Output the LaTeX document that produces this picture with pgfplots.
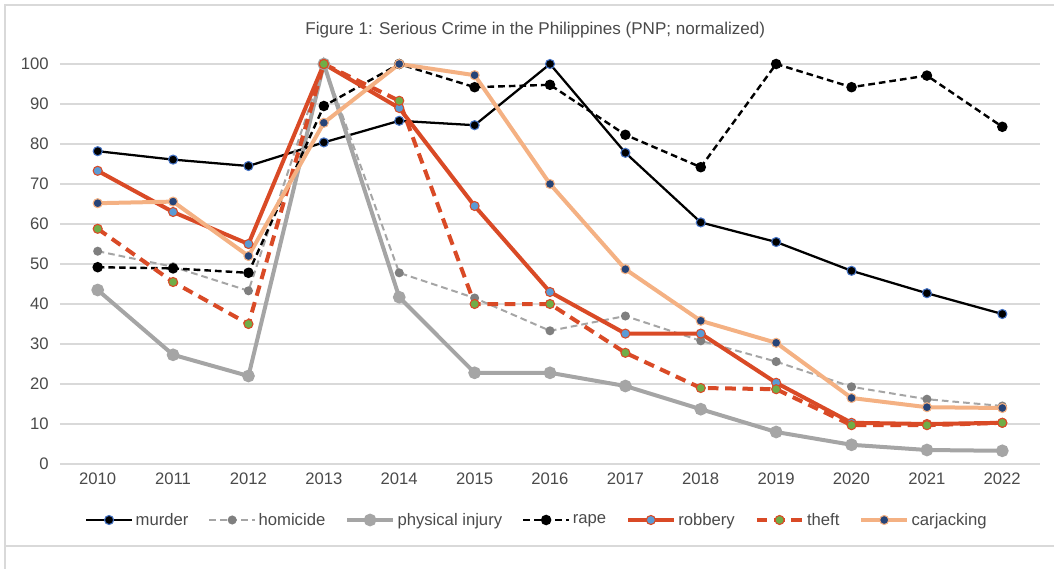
\documentclass[border=0pt]{standalone}
\usepackage{fontspec}
\setmainfont{Liberation Sans}
\usepackage{pgfplots}
\pgfplotsset{compat=1.18}
\definecolor{txt}{HTML}{4A4A4A}
\definecolor{grd}{HTML}{D9D9D9}
\definecolor{mblue}{HTML}{4472C4}
\definecolor{hgray}{HTML}{A5A5A5}
\definecolor{hmark}{HTML}{7F7F7F}
\definecolor{rob}{HTML}{D94A26}
\definecolor{robm}{HTML}{5B9BD5}
\definecolor{thm}{HTML}{70AD47}
\definecolor{car}{HTML}{F4B183}
\definecolor{carm}{HTML}{264478}
\begin{document}
\begin{tikzpicture}
\useasboundingbox (0,0) rectangle (790.5pt,426.75pt);
\draw[grd, line width=1.2pt] (790.5pt,423pt) -- (3.75pt,423pt) -- (3.75pt,0pt);
\draw[grd, line width=1pt] (3.75pt,17.25pt) -- (790.5pt,17.25pt);
\begin{axis}[
  at={(45pt,78.75pt)}, anchor=south west,
  scale only axis, width=735pt, height=300pt,
  xmin=2009.5, xmax=2022.5, ymin=0, ymax=100,
  xtick={2010,...,2022}, ytick={0,10,...,100},
  axis line style={draw=none},
  tick style={draw=none},
  ymajorgrids, grid style={grd, line width=0.9pt},
  /pgf/number format/assume math mode=true,
  /pgf/number format/1000 sep={},
  tick label style={font=\fontsize{12.5}{14}\selectfont, text=txt},
  yticklabel style={xshift=-5pt},
  xticklabel style={yshift=-3pt},
  clip=false,
  legend columns=7,
  legend style={draw=none, fill=none, at={(0.487,-0.14)}, anchor=center,
    font=\fontsize{12.5}{14}\selectfont, text=txt,
    /tikz/every even column/.append style={column sep=13pt}},
  legend image code/.code={\draw[mark repeat=2,mark phase=2] plot coordinates {(0cm,0cm)(0.6cm,0cm)(1.2cm,0cm)};},
]
\node[font=\fontsize{12.8}{14}\selectfont, text=txt] at (rel axis cs:0.485,1.085) {Figure 1: Serious Crime in the Philippines (PNP; normalized)};
\addplot[black, line width=1.7pt, mark=*, mark size=3.4pt, mark options={solid, fill=black, draw=mblue, line width=0.8pt}]
coordinates {(2010,78.2)(2011,76.1)(2012,74.5)(2013,80.4)(2014,85.8)(2015,84.7)(2016,100)(2017,77.8)(2018,60.4)(2019,55.5)(2020,48.3)(2021,42.7)(2022,37.5)};
\addlegendentry{murder}
\addplot[hgray, line width=1.5pt, dash pattern=on 5pt off 3pt, mark=*, mark size=2.6pt, mark options={solid, fill=hmark, draw=hmark}]
coordinates {(2010,53.2)(2011,49.3)(2012,43.3)(2013,100)(2014,47.8)(2015,41.5)(2016,33.3)(2017,37.0)(2018,30.8)(2019,25.6)(2020,19.3)(2021,16.2)(2022,14.5)};
\addlegendentry{homicide}
\addplot[hgray, line width=3pt, mark=*, mark size=3.2pt, mark options={solid, fill=hgray, draw=hgray}]
coordinates {(2010,43.5)(2011,27.3)(2012,22.0)(2013,100)(2014,41.7)(2015,22.8)(2016,22.8)(2017,19.5)(2018,13.7)(2019,8.0)(2020,4.8)(2021,3.5)(2022,3.3)};
\addlegendentry{physical injury}
\addplot[black, line width=1.8pt, dash pattern=on 5pt off 3pt, mark=*, mark size=3pt, mark options={solid, fill=black, draw=black}]
coordinates {(2010,49.2)(2011,48.9)(2012,47.8)(2013,89.5)(2014,100)(2015,94.2)(2016,94.8)(2017,82.3)(2018,74.2)(2019,100)(2020,94.2)(2021,97.1)(2022,84.3)};
\addlegendentry{rape}
\addplot[rob, line width=3pt, mark=*, mark size=3.4pt, mark options={solid, fill=robm, draw=rob, line width=0.8pt}]
coordinates {(2010,73.3)(2011,63.0)(2012,55.0)(2013,100)(2014,89.0)(2015,64.5)(2016,43.0)(2017,32.6)(2018,32.6)(2019,20.3)(2020,10.3)(2021,10.0)(2022,10.3)};
\addlegendentry{robbery}
\addplot[rob, line width=3pt, dash pattern=on 8pt off 5pt, mark=*, mark size=3.4pt, mark options={solid, fill=thm, draw=rob, line width=0.8pt}]
coordinates {(2010,58.8)(2011,45.5)(2012,35.0)(2013,100)(2014,90.8)(2015,40.0)(2016,40.0)(2017,27.8)(2018,19.0)(2019,18.7)(2020,9.7)(2021,9.7)(2022,10.3)};
\addlegendentry{theft}
\addplot[car, line width=3pt, mark=*, mark size=3.4pt, mark options={solid, fill=carm, draw=car, line width=0.8pt}]
coordinates {(2010,65.2)(2011,65.6)(2012,52.0)(2013,85.3)(2014,100)(2015,97.2)(2016,70.0)(2017,48.7)(2018,35.8)(2019,30.3)(2020,16.5)(2021,14.2)(2022,14.0)};
\addlegendentry{carjacking}
\end{axis}
\end{tikzpicture}
\end{document}
